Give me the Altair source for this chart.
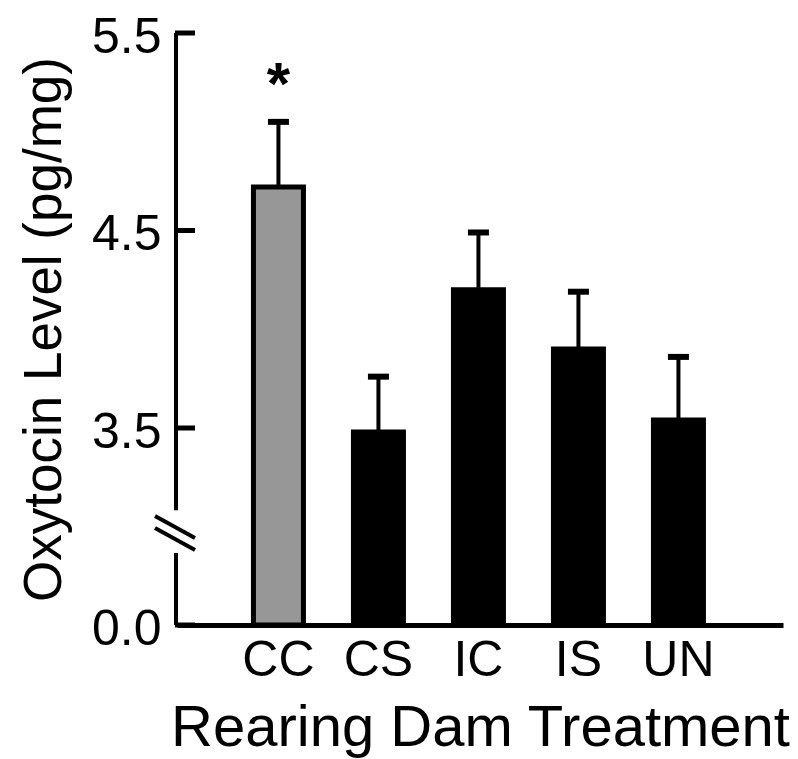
import altair as alt
import pandas as pd

groups = ["CC", "CS", "IC", "IS", "UN"]
means = [4.72, 3.43, 4.20, 3.90, 3.54]
sems = [0.33, 0.33, 0.29, 0.29, 0.32]
tick_values = [0.0, 3.5, 4.5, 5.5]
star_groups = ["CC"]

df = pd.DataFrame({"group": groups, "mean": means, "sem": sems})
df["upper"] = df["mean"] + df["sem"]
df["star"] = ["*" if g in star_groups else "" for g in groups]

FONT = "Liberation Sans"
W, H = 606, 592

yscale = alt.Scale(domain=[0, 3.5, 5.5], range=[H, 395, 0], nice=False, zero=False)
xscale = alt.Scale(paddingInner=0.5, paddingOuter=0.78, align=0.49)

x_enc = alt.X(
    "group:N",
    sort=groups,
    scale=xscale,
    axis=alt.Axis(
        title="Rearing Dam Treatment",
        labelAngle=0,
        ticks=False,
        domain=True,
        domainColor="black",
        domainWidth=5,
        labelFont=FONT,
        labelFontSize=50,
        labelColor="black",
        labelPadding=10,
        titleFont=FONT,
        titleFontSize=58,
        titleFontWeight="normal",
        titleColor="black",
        titlePadding=14,
    ),
)

y_enc = alt.Y(
    "mean:Q",
    scale=yscale,
    axis=alt.Axis(
        title="Oxytocin Level (pg/mg)",
        values=tick_values,
        format=".1f",
        ticks=False,
        domain=False,
        grid=False,
        labelFont=FONT,
        labelFontSize=50,
        labelColor="black",
        labelPadding=16,
        labelOffset=4,
        titleFont=FONT,
        titleFontSize=53,
        titleFontWeight="normal",
        titleColor="black",
        titlePadding=20,
    ),
)

base = alt.Chart(df)

bars = base.mark_bar(stroke="black", strokeWidth=5).encode(
    x=x_enc,
    y=y_enc,
    y2=alt.datum(0),
    fill=alt.Fill(
        "group:N",
        scale=alt.Scale(domain=groups, range=["#979797", "black", "black", "black", "black"]),
        legend=None,
    ),
)

err_line = base.mark_rule(color="black", strokeWidth=4).encode(
    x=alt.X("group:N", sort=groups, scale=xscale),
    y=alt.Y("mean:Q", scale=yscale),
    y2="upper:Q",
)

err_cap = base.mark_tick(color="black", thickness=6, size=21, opacity=1).encode(
    x=alt.X("group:N", sort=groups, scale=xscale),
    y=alt.Y("upper:Q", scale=yscale),
)

star = base.mark_text(
    font=FONT, fontSize=60, fontWeight="bold", color="black",
    baseline="alphabetic", dy=-18,
).encode(
    x=alt.X("group:N", sort=groups, scale=xscale),
    y=alt.Y("upper:Q", scale=yscale),
    text="star:N",
)

# y axis line with a break, ticks pointing inward
ticks_df = pd.DataFrame({"t": tick_values})
y_ticks = alt.Chart(ticks_df).mark_rule(color="black", strokeWidth=5).encode(
    x=alt.value(-2), x2=alt.value(18), y=alt.Y("t:Q", scale=yscale)
)

axis_df = pd.DataFrame({"a": [5.5, 1.28], "b": [2.04, 0.0]})
y_domain = alt.Chart(axis_df).mark_rule(color="black", strokeWidth=4).encode(
    x=alt.value(-1), y=alt.Y("a:Q", scale=yscale), y2="b:Q"
)

brk_df = pd.DataFrame({"a": [1.936, 1.723], "b": [1.545, 1.332]})
y_break = alt.Chart(brk_df).mark_rule(color="black", strokeWidth=4).encode(
    x=alt.value(-22), x2=alt.value(18), y=alt.Y("a:Q", scale=yscale), y2="b:Q"
)

chart = (
    alt.layer(bars, err_line, err_cap, star, y_domain, y_ticks, y_break)
    .properties(
        width=W,
        height=H,
        background="white",
        autosize=alt.AutoSizeParams(type="none"),
        padding={"left": 169, "top": 25, "right": 7, "bottom": 134},
    )
    .configure_view(stroke="transparent", strokeWidth=0)
)

chart.save("out.html", embed_options={"renderer": "svg", "actions": False})
